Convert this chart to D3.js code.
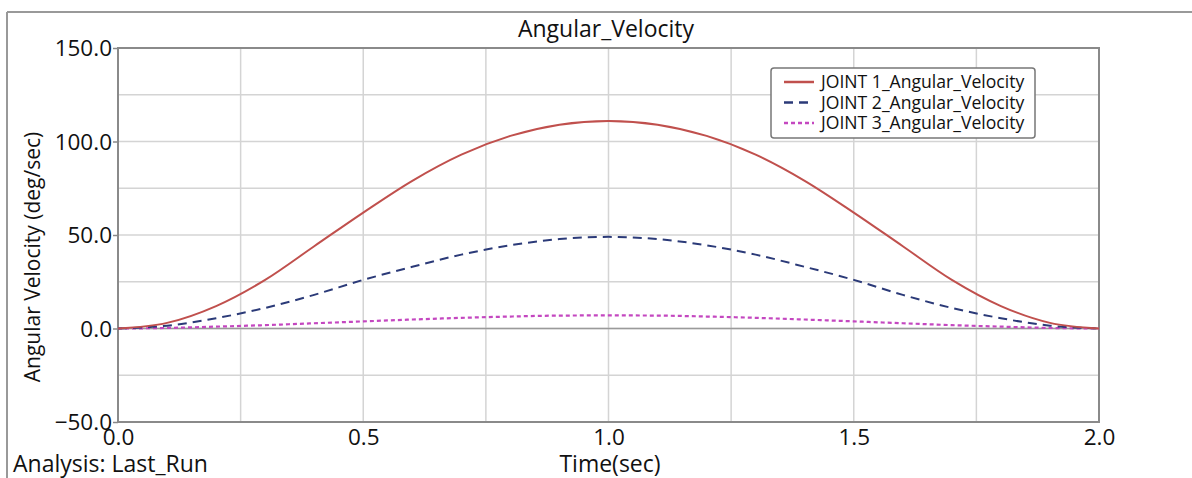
<!DOCTYPE html>
<html><head><meta charset="utf-8">
<script src="https://cdn.jsdelivr.net/npm/d3@7"></script>
<style>body{margin:0;background:#fff}svg{display:block}text{font-family:"Open Sans",sans-serif;fill:#111}</style>
</head><body>
<svg id="c" width="1192" height="478"></svg>
<script>
const times = [0,0.1,0.2,0.3,0.4,0.5,0.6,0.7,0.8,0.9,1.0,1.1,1.2,1.3,1.4,1.5,1.6,1.7,1.8,1.9,2.0];
const joint1 = [0,3,12,26,44,62,79,93,103,109,111,109,103,93,79,62,44,26,12,3,0];
const joint2 = [0,1.5,5.5,11,18,26,33,39.5,44.5,47.8,49,47.8,44.5,39.5,33,26,18,11,5.5,1.5,0];
const joint3 = [0,0.3,1,1.8,2.8,3.8,4.8,5.7,6.4,6.9,7,6.9,6.4,5.7,4.8,3.8,2.8,1.8,1,0.3,0];
const seriesNames = ["JOINT 1_Angular_Velocity","JOINT 2_Angular_Velocity","JOINT 3_Angular_Velocity"];
const xTicks = [0,0.5,1.0,1.5,2.0];
const yTicks = [-50,0,50,100,150];

const svg = d3.select("#c");
const L=118,R=1099,T=48,B=422;
const x = d3.scaleLinear().domain([0,2]).range([L,R]);
const y = d3.scaleLinear().domain([-50,150]).range([B,T]);

// outer frame
svg.append("line").attr("x1",7).attr("x2",1192).attr("y1",12).attr("y2",12).attr("stroke","#999").attr("stroke-width",2);
svg.append("line").attr("x1",7).attr("x2",7).attr("y1",12).attr("y2",478).attr("stroke","#999").attr("stroke-width",2);

// grid
const gx = d3.range(0,2.001,0.25), gy = d3.range(-50,150.1,25);
svg.append("g").selectAll("line").data(gx).join("line")
  .attr("x1",d=>x(d)).attr("x2",d=>x(d)).attr("y1",T).attr("y2",B).attr("stroke","#d4d4d4").attr("stroke-width",1.5);
svg.append("g").selectAll("line").data(gy).join("line")
  .attr("y1",d=>y(d)).attr("y2",d=>y(d)).attr("x1",L).attr("x2",R).attr("stroke","#d4d4d4").attr("stroke-width",1.5);

// axes
const ya = d3.axisLeft(y).tickValues(yTicks).tickFormat(d3.format(".1f")).tickSize(5).tickPadding(1);
const gya = svg.append("g").attr("transform",`translate(${L},0)`).call(ya);
const xa = d3.axisBottom(x).tickValues(xTicks).tickFormat(d3.format(".1f")).tickSize(0).tickPadding(7);
const gxa = svg.append("g").attr("transform",`translate(0,${B})`).call(xa);
[gya,gxa].forEach(g=>{g.select(".domain").remove();g.selectAll(".tick line").attr("stroke","#888").attr("stroke-width",1.5);
  g.selectAll("text").style("font-family","'Open Sans',sans-serif").style("font-size","22.5px").attr("fill","#111");});
gya.selectAll("text").attr("dy","0.35em");
gxa.selectAll("text").attr("dy","0.72em");

// plot border
svg.append("rect").attr("x",L).attr("y",T).attr("width",R-L).attr("height",B-T).attr("fill","none").attr("stroke","#8a8a8a").attr("stroke-width",2);

// lines
const data = [joint1,joint2,joint3];
const lineColors = ["#c0504d","#2b3a78","#c447c0"];
const dashes = [null,"9,6","4,3"];
const widths = [2,2,2.2];
const line = d3.line().x((d,i)=>x(times[i])).y(d=>y(d)).curve(d3.curveMonotoneX);
// zero line
svg.append("line").attr("x1",L).attr("x2",R).attr("y1",y(0)).attr("y2",y(0)).attr("stroke","#9a9a9a").attr("stroke-width",1.5);
data.slice().reverse().forEach((s,ri)=>{const i=2-ri;
  svg.append("path").datum(s).attr("d",line).attr("fill","none").attr("stroke",lineColors[i]).attr("stroke-width",widths[i]).attr("stroke-dasharray",dashes[i]);});

// title
svg.append("text").attr("x",606).attr("y",37).attr("text-anchor","middle").style("font-size","23px").text("Angular_Velocity");

// legend
const lg = svg.append("g");
lg.append("rect").attr("x",771).attr("y",68).attr("width",264).attr("height",70).attr("rx",3).attr("fill","#fff").attr("stroke","#777").attr("stroke-width",1.5);
const textColors = ["#e0403a","#6a3fd6","#e040c0"];
seriesNames.forEach((n,i)=>{
  const yy = 82+i*20.5;
  lg.append("line").attr("x1",784).attr("x2",814).attr("y1",yy).attr("y2",yy).attr("stroke",lineColors[i]).attr("stroke-width",2.5).attr("stroke-dasharray",dashes[i]);
  lg.append("text").attr("x",821).attr("y",yy).attr("dy","0.35em").style("font-size","17.6px").attr("fill",textColors[i]).text(n);
});

// axis titles
svg.append("text").attr("transform","translate(40,257) rotate(-90)").attr("text-anchor","middle").style("font-size","21px").text("Angular Velocity (deg/sec)");
svg.append("text").attr("x",610).attr("y",472).attr("text-anchor","middle").style("font-size","23px").text("Time(sec)");
svg.append("text").attr("x",13).attr("y",472).style("font-size","23px").text("Analysis: Last_Run");
</script>
</body></html>
